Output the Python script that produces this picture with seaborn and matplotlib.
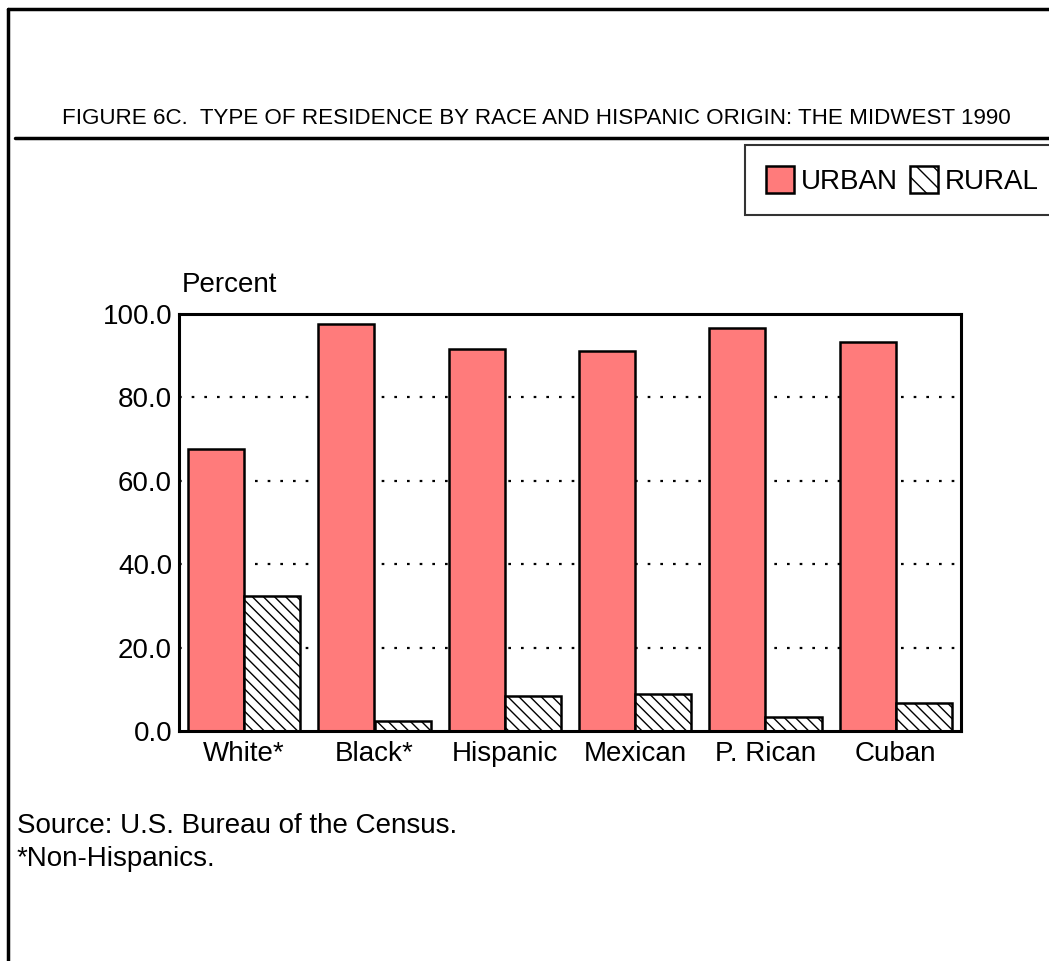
import numpy as np
import pandas as pd
import seaborn as sns
import matplotlib.pyplot as plt
from matplotlib.patches import Patch
from matplotlib.lines import Line2D
from matplotlib.ticker import FormatStrFormatter

# valores (percentual)
grupos = ['White*', 'Black*', 'Hispanic', 'Mexican', 'P. Rican', 'Cuban']
urbano = [67.7, 97.6, 91.6, 91.1, 96.6, 93.3]
rural = [32.3, 2.4, 8.4, 8.9, 3.4, 6.7]

df = pd.DataFrame({
    'grupo': grupos * 2,
    'percent': urbano + rural,
    'tipo': ['URBAN'] * len(grupos) + ['RURAL'] * len(grupos),
})

sns.set_theme(style='white')
plt.rcParams['font.family'] = ['Liberation Sans', 'DejaVu Sans']
plt.rcParams['hatch.linewidth'] = 1.0
plt.rcParams['text.color'] = 'black'

cor_urb = '#FF7B7B'
fs = 20

fig = plt.figure(figsize=(10.49, 9.61), dpi=100)
ax = fig.add_axes([179 / 1049, 1 - 731 / 961, 782 / 1049, 417 / 961])

sns.barplot(data=df, x='grupo', y='percent', hue='tipo',
            palette={'URBAN': cor_urb, 'RURAL': 'white'}, saturation=1,
            width=0.86, edgecolor='black', linewidth=1.8,
            legend=False, ax=ax)

for barra in ax.containers[1]:
    barra.set_hatch('\\\\\\')

ax.set_ylim(0, 100)
ax.set_xlim(-0.5, len(grupos) - 0.5)
ax.set_yticks(np.arange(0, 101, 20))
ax.yaxis.set_major_formatter(FormatStrFormatter('%.1f'))
ax.set_xlabel('')
ax.set_ylabel('')
ax.tick_params(axis='both', length=0, labelsize=fs, colors='black')
ax.tick_params(axis='y', pad=5)
ax.tick_params(axis='x', pad=7)
for lado in ax.spines.values():
    lado.set_visible(True)
    lado.set_color('black')
    lado.set_linewidth(2.2)

ax.set_axisbelow(True)
for v in [20, 40, 60, 80]:
    ax.axhline(v, color='black', lw=1.6, ls=(0, (1.2, 4.5)), zorder=0)

# textos
fig.text(62 / 1049, 1 - 124 / 961,
         'FIGURE 6C.  TYPE OF RESIDENCE BY RACE AND HISPANIC ORIGIN: THE MIDWEST 1990',
         fontsize=16.1, ha='left', va='baseline')
fig.text(182 / 1049, 1 - 292 / 961, 'Percent', fontsize=fs, ha='left', va='baseline')
fig.text(17 / 1049, 1 - 833 / 961, 'Source: U.S. Bureau of the Census.',
         fontsize=fs, ha='left', va='baseline')
fig.text(17 / 1049, 1 - 866 / 961, '*Non-Hispanics.',
         fontsize=fs, ha='left', va='baseline')

# moldura e linha do título
fig.add_artist(Line2D([8 / 1049, 8 / 1049], [0, 1 - 9 / 961], color='black', lw=2.5))
fig.add_artist(Line2D([8 / 1049, 1], [1 - 9 / 961, 1 - 9 / 961], color='black', lw=2.5))
fig.add_artist(Line2D([15 / 1049, 1], [1 - 138 / 961, 1 - 138 / 961], color='black', lw=2.5))

# legenda
alcas = [Patch(facecolor=cor_urb, edgecolor='black', linewidth=1.8, label='URBAN'),
         Patch(facecolor='white', edgecolor='black', linewidth=1.8, hatch='\\\\', label='RURAL')]
leg = fig.legend(handles=alcas, loc='upper left',
                 bbox_to_anchor=(745 / 1049, 1 - 145 / 961), borderaxespad=0,
                 ncol=2, fontsize=fs, frameon=True, fancybox=False,
                 handlelength=1.0, handleheight=1.1, handletextpad=0.25,
                 columnspacing=0.45, borderpad=0.75)
leg.get_frame().set_edgecolor('black')
leg.get_frame().set_linewidth(1.5)

fig.savefig('out.png', dpi=100)
